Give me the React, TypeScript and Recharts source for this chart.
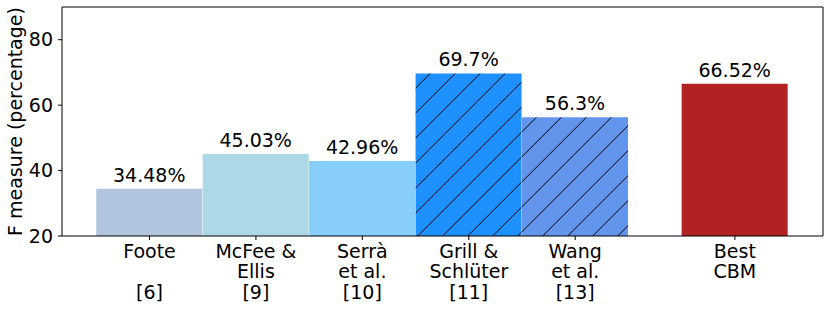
import React from 'react';
import { BarChart, Bar, XAxis, YAxis, Cell, LabelList, ReferenceLine } from 'recharts';

const categories: string[][] = [
  ['Foote', '', '[6]'],
  ['McFee &', 'Ellis', '[9]'],
  ['Serrà', 'et al.', '[10]'],
  ['Grill &', 'Schlüter', '[11]'],
  ['Wang', 'et al.', '[13]'],
  ['Best', 'CBM'],
];
const slots = [0, 1, 2, 3, 4, 5.5];
const fMeasure = [34.48, 45.03, 42.96, 69.7, 56.3, 66.52];
const fills = ['#B0C4DE', '#ADD8E6', '#87CEFA', 'url(#hatchGrill)', 'url(#hatchWang)', '#B22222'];
const yTicks = [20, 40, 60, 80];

const data = slots.map((x, i) => ({ x, value: fMeasure[i], idx: i }));
const X_DOMAIN: [number, number] = [-0.822, 6.328];
const Y_DOMAIN: [number, number] = [20, 90];
const FONT = 'DejaVu Sans';
const FS = 19;

const XTick = (props: any) => {
  const { x, y, payload } = props;
  const i = slots.indexOf(payload.value);
  const lines = i >= 0 ? categories[i] : [];
  return (
    <g>
      {lines.map((l, k) => (
        <text key={k} x={x} y={y + 15.7 + k * 20.7} textAnchor="middle" fontSize={FS} fontFamily={FONT} fill="#000">
          {l}
        </text>
      ))}
    </g>
  );
};

const YLabel = (props: any) => {
  const vb = props.viewBox || { x: 0, y: 7, width: 62, height: 229 };
  const cx = 15;
  const cy = vb.y + vb.height / 2;
  return (
    <text x={cx} y={cy} transform={`rotate(-90, ${cx}, ${cy})`} textAnchor="middle" dominantBaseline="central" fontSize={FS} fontFamily={FONT} fill="#000">
      F measure (percentage)
    </text>
  );
};

const hatchPath = 'M0,25 L25,0 M-6.25,6.25 L6.25,-6.25 M18.75,31.25 L31.25,18.75';

export default function App() {
  return (
    <div style={{ position: 'absolute', left: 0, top: 0, width: 831, height: 312, background: '#fff' }}>
      <BarChart
        width={831}
        height={312}
        data={data}
        margin={{ top: 7, right: 8, bottom: 0, left: 0 }}
        barCategoryGap="0%"
        barGap={0}
        maxBarSize={500}
        style={{ fontFamily: FONT }}
      >
        <defs>
          <pattern id="hatchGrill" patternUnits="userSpaceOnUse" x={3.7} y={0} width={25} height={25}>
            <rect x={0} y={0} width={25} height={25} fill="#1E90FF" />
            <path d={hatchPath} stroke="#000" strokeWidth={1} />
          </pattern>
          <pattern id="hatchWang" patternUnits="userSpaceOnUse" x={3.7} y={0} width={25} height={25}>
            <rect x={0} y={0} width={25} height={25} fill="#6495ED" />
            <path d={hatchPath} stroke="#000" strokeWidth={1} />
          </pattern>
        </defs>
        <XAxis
          dataKey="x"
          type="number"
          domain={X_DOMAIN}
          ticks={slots}
          interval={0}
          height={76}
          tickSize={4}
          tick={<XTick />}
          axisLine={{ stroke: '#000', strokeWidth: 1 }}
          tickLine={{ stroke: '#000', strokeWidth: 1 }}
          allowDataOverflow
        />
        <YAxis
          type="number"
          domain={Y_DOMAIN}
          ticks={yTicks}
          width={62}
          tickSize={4}
          tickMargin={5}
          tick={{ fontSize: FS, fill: '#000', fontFamily: FONT }}
          axisLine={{ stroke: '#000', strokeWidth: 1 }}
          tickLine={{ stroke: '#000', strokeWidth: 1 }}
          allowDataOverflow
          label={<YLabel />}
        />
        <Bar dataKey="value" isAnimationActive={false}>
          {data.map((d, i) => (
            <Cell key={i} fill={fills[i]} />
          ))}
          <LabelList
            dataKey="value"
            position="top"
            offset={7}
            formatter={(v: any) => `${v}%`}
            style={{ fontSize: FS, fill: '#000', fontFamily: FONT }}
          />
        </Bar>
        <ReferenceLine y={Y_DOMAIN[1]} stroke="#000" strokeWidth={1} />
        <ReferenceLine x={X_DOMAIN[1]} stroke="#000" strokeWidth={1} />
      </BarChart>
    </div>
  );
}
